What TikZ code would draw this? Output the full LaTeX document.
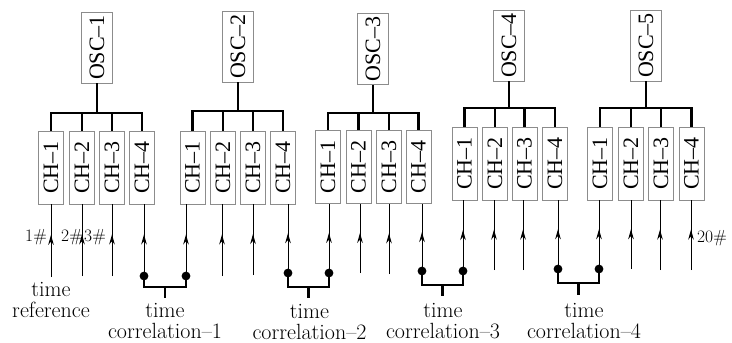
\documentclass[tikz,border=0pt]{standalone}
\usepackage{fontspec}
\newfontfamily\boxfont{Liberation Serif}
\usetikzlibrary{arrows.meta,decorations.markings}

\tikzset{
  unit/.style={draw=black!45, line width=0.8pt, fill=white, inner sep=0pt,
               font=\boxfont\fontsize{22}{22}\selectfont},
  oscbox/.style={unit, minimum width=31pt, minimum height=71pt},
  chbox/.style={unit, minimum width=25pt, minimum height=73pt},
  bus/.style={line width=2.6pt},
  feed/.style={line width=1pt, postaction={decorate},
    decoration={markings, mark=at position 0.58 with {\arrow{Stealth[length=10pt,width=5.6pt]}}}},
  lab/.style={align=center, inner sep=0pt, anchor=north,
              font=\fontsize{22}{21}\selectfont},
  num/.style={inner sep=0pt, anchor=base, font=\fontsize{17.5}{18}\selectfont},
}

\begin{document}
\begin{tikzpicture}[x=1pt,y=-1pt]
\useasboundingbox (0,0) rectangle (732,343);

% oscilloscopes
\node[oscbox] (o1) at (97,47.5)  {\rotatebox{90}{OSC–1}};
\node[oscbox] (o2) at (238,46.5) {\rotatebox{90}{OSC–2}};
\node[oscbox] (o3) at (373,49)   {\rotatebox{90}{OSC–3}};
\node[oscbox] (o4) at (509,45.5) {\rotatebox{90}{OSC–4}};
\node[oscbox] (o5) at (646,45.5) {\rotatebox{90}{OSC–5}};

% channels
\node[chbox] (g1-c1) at (51,167.5)  {\rotatebox{90}{CH–1}};
\node[chbox] (g1-c2) at (82,167.5)  {\rotatebox{90}{CH–2}};
\node[chbox] (g1-c3) at (112,167.5) {\rotatebox{90}{CH–3}};
\node[chbox] (g1-c4) at (142,167.5) {\rotatebox{90}{CH–4}};

\node[chbox] (g2-c1) at (192.5,167.5) {\rotatebox{90}{CH–1}};
\node[chbox] (g2-c2) at (223,167.5)   {\rotatebox{90}{CH–2}};
\node[chbox] (g2-c3) at (253,167.5)   {\rotatebox{90}{CH–3}};
\node[chbox] (g2-c4) at (283,167.5)   {\rotatebox{90}{CH–4}};

\node[chbox] (g3-c1) at (328,167)   {\rotatebox{90}{CH–1}};
\node[chbox] (g3-c2) at (358.5,167) {\rotatebox{90}{CH–2}};
\node[chbox] (g3-c3) at (389,167)   {\rotatebox{90}{CH–3}};
\node[chbox] (g3-c4) at (418.5,167) {\rotatebox{90}{CH–4}};

\node[chbox] (g4-c1) at (464.5,163.5) {\rotatebox{90}{CH–1}};
\node[chbox] (g4-c2) at (495,163.5)   {\rotatebox{90}{CH–2}};
\node[chbox] (g4-c3) at (524.5,163.5) {\rotatebox{90}{CH–3}};
\node[chbox] (g4-c4) at (555,163.5)   {\rotatebox{90}{CH–4}};

\node[chbox] (g5-c1) at (600,163.5)   {\rotatebox{90}{CH–1}};
\node[chbox] (g5-c2) at (631,163.5)   {\rotatebox{90}{CH–2}};
\node[chbox] (g5-c3) at (661,163.5)   {\rotatebox{90}{CH–3}};
\node[chbox] (g5-c4) at (691.5,163.5) {\rotatebox{90}{CH–4}};

% bus junctions under each oscilloscope
\coordinate (b1) at (97,113);
\coordinate (b2) at (238,111);
\coordinate (b3) at (373,113);
\coordinate (b4) at (509,108);
\coordinate (b5) at (646,108);

\foreach \g in {1,...,5} {
  \draw[bus] (o\g.south) -- (b\g);
  \draw[bus] (g\g-c1.north) |- (b\g) -| (g\g-c4.north);
  \draw[bus] (g\g-c2.north) -- (g\g-c2.north |- b\g);
  \draw[bus] (g\g-c3.north) -- (g\g-c3.north |- b\g);
}

% free signal inputs
\coordinate (i1a) at (51,277);
\coordinate (i1b) at (82,276);
\coordinate (i1c) at (112,276);
\coordinate (i2b) at (222,276);
\coordinate (i2c) at (253,275);
\coordinate (i3b) at (360,273);
\coordinate (i3c) at (389,274);
\coordinate (i4b) at (494,270);
\coordinate (i4c) at (523,270);
\coordinate (i5b) at (631,269);
\coordinate (i5c) at (660,270);
\coordinate (i5d) at (691,270);

% correlated inputs (dots)
\coordinate (d1a) at (144,276);
\coordinate (d1b) at (186,276);
\coordinate (d2a) at (288,273);
\coordinate (d2b) at (329,273);
\coordinate (d3a) at (422,271);
\coordinate (d3b) at (463,271);
\coordinate (d4a) at (558,269);
\coordinate (d4b) at (599,269);

\foreach \p/\c in {i1a/g1-c1, i1b/g1-c2, i1c/g1-c3, d1a/g1-c4,
                   d1b/g2-c1, i2b/g2-c2, i2c/g2-c3, d2a/g2-c4,
                   d2b/g3-c1, i3b/g3-c2, i3c/g3-c3, d3a/g3-c4,
                   d3b/g4-c1, i4b/g4-c2, i4c/g4-c3, d4a/g4-c4,
                   d4b/g5-c1, i5b/g5-c2, i5c/g5-c3, i5d/g5-c4}
  \draw[feed] (\p) -- (\p |- \c.south);

% correlation brackets
\coordinate (k1) at (165,287);   \coordinate (s1) at (165,298);
\coordinate (k2) at (308.5,287); \coordinate (s2) at (308.5,298);
\coordinate (k3) at (442.5,285); \coordinate (s3) at (442.5,296);
\coordinate (k4) at (578.5,283); \coordinate (s4) at (578.5,295);

\foreach \k in {1,...,4} {
  \draw[bus] (d\k a) |- (k\k) -| (d\k b);
  \draw[bus] (k\k) -- (s\k);
  \fill (d\k a) circle (4.4pt);
  \fill (d\k b) circle (4.4pt);
}

% labels
\node[lab] (tref) at (51,282)    {time\\reference};
\node[lab] (tc1)  at (165,303)   {time\\correlation--1};
\node[lab] (tc2)  at (309.5,304) {time\\correlation--2};
\node[lab] (tc3)  at (443,303.5) {time\\correlation--3};
\node[lab] (tc4)  at (584,303)   {time\\correlation--4};

\node[num] (n1)  at (36,241)  {1\#};
\node[num] (n2)  at (72,241)  {2\#};
\node[num] (n3)  at (95,241)  {3\#};
\node[num] (n20) at (712,242) {20\#};
\end{tikzpicture}
\end{document}
